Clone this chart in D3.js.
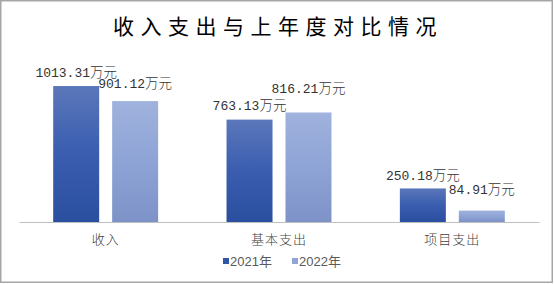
<!DOCTYPE html>
<html>
<head>
<meta charset="utf-8">
<script src="https://cdn.jsdelivr.net/npm/d3@7"></script>
<style>
  body { margin: 0; background: #fff; }
  svg { display: block; }
</style>
</head>
<body>
<div id="chart"></div>
<script>
// Data
const categories = ["收入", "基本支出", "项目支出"];
const seriesNames = ["2021年", "2022年"];
const values2021 = [1013.31, 763.13, 250.18];
const values2022 = [901.12, 816.21, 84.91];
const unit = "万元";

// how far each data label sits above its bar (the original labels were nudged by hand)
const labelLift = [[9, 10, 8], [13, 19, 17]];

const width = 554;
const height = 284;
const margin = { top: 61, right: 14, bottom: 62, left: 19 };

const svg = d3.select("#chart")
    .append("svg")
    .attr("width", width)
    .attr("height", height);

// gradients for the two series
const defs = svg.append("defs");
const gradStops = [
    ["#5b77ba", "#3a5db0", "#2b4f9f"],
    ["#a0b2dd", "#8ea4d6", "#7d93c8"]
];
gradStops.forEach((stops, i) => {
    const g = defs.append("linearGradient")
        .attr("id", "grad" + i)
        .attr("x1", 0).attr("y1", 0)
        .attr("x2", 0).attr("y2", 1);
    g.append("stop").attr("offset", "0%").attr("stop-color", stops[0]);
    g.append("stop").attr("offset", "50%").attr("stop-color", stops[1]);
    g.append("stop").attr("offset", "100%").attr("stop-color", stops[2]);
});
const legendColors = ["#2f55a4", "#8fa5d6"];

// outer frame
svg.append("rect")
    .attr("x", 0.75).attr("y", 0.75)
    .attr("width", 551.5).attr("height", 281.5)
    .attr("fill", "none")
    .attr("stroke", "#a6a6a6")
    .attr("stroke-width", 1.5);

// title
svg.append("text")
    .attr("x", 278)
    .attr("y", 34)
    .attr("text-anchor", "middle")
    .attr("font-family", "'Noto Sans CJK SC', sans-serif")
    .attr("font-size", 21)
    .attr("font-weight", 400)
    .attr("letter-spacing", 6.5)
    .attr("fill", "#000")
    .text("收入支出与上年度对比情况");

// Scales
const x0 = d3.scaleBand()
    .domain(categories)
    .range([margin.left, width - margin.right - 1]);

const x1 = d3.scaleBand()
    .domain(seriesNames)
    .range([0, x0.bandwidth()])
    .paddingInner(0.22)
    .paddingOuter(0.58);

const y = d3.scaleLinear()
    .domain([0, 1200])
    .range([height - margin.bottom, margin.top]);

const table = categories.map((c, i) => ({
    category: c,
    values: [values2021[i], values2022[i]]
}));

// bars
const groups = svg.append("g")
    .selectAll("g")
    .data(table)
    .join("g")
    .attr("transform", d => `translate(${x0(d.category)},0)`);

groups.selectAll("rect")
    .data(d => d.values.map((v, s) => ({ s, v })))
    .join("rect")
    .attr("x", d => x1(seriesNames[d.s]))
    .attr("y", d => y(d.v))
    .attr("width", x1.bandwidth())
    .attr("height", d => y(0) - y(d.v))
    .attr("fill", d => `url(#grad${d.s})`);

// data labels
groups.each(function (d, ci) {
    const lab = d3.select(this).selectAll("text")
        .data(d.values.map((v, s) => ({ s, v })))
        .join("text")
        .attr("x", e => x1(seriesNames[e.s]) + x1.bandwidth() / 2)
        .attr("y", e => y(e.v) - labelLift[e.s][ci])
        .attr("text-anchor", "middle")
        .attr("fill", "#333");
    lab.append("tspan")
        .attr("font-family", "'Liberation Mono', monospace")
        .attr("font-size", 13)
        .text(e => e.v.toFixed(2));
    lab.append("tspan")
        .attr("font-family", "'Noto Sans CJK SC', sans-serif")
        .attr("font-size", 13.5)
        .attr("font-weight", 300)
        .text(unit);
});

// x axis
const xAxis = svg.append("g")
    .attr("transform", `translate(0,${y(0)})`)
    .call(d3.axisBottom(x0).tickSize(0).tickPadding(0));
xAxis.select(".domain")
    .attr("stroke", "#bfbfbf")
    .attr("stroke-width", 1.2);
xAxis.selectAll(".tick text")
    .attr("y", 22)
    .attr("dy", null)
    .attr("font-family", "'Noto Sans CJK SC', sans-serif")
    .attr("font-size", 13)
    .attr("font-weight", 300)
    .attr("letter-spacing", 1)
    .attr("fill", "#404040");

// legend
const legendX = [223, 292];
const legend = svg.append("g")
    .selectAll("g")
    .data(seriesNames)
    .join("g")
    .attr("transform", (d, i) => `translate(${legendX[i]},258)`);
legend.append("rect")
    .attr("width", 6)
    .attr("height", 6)
    .attr("fill", (d, i) => legendColors[i]);
legend.append("text")
    .attr("x", 7)
    .attr("y", 8)
    .attr("font-family", "'Liberation Sans', 'Noto Sans CJK SC', sans-serif")
    .attr("font-size", 13)
    .attr("fill", "#595959")
    .text(d => d);
</script>
</body>
</html>
